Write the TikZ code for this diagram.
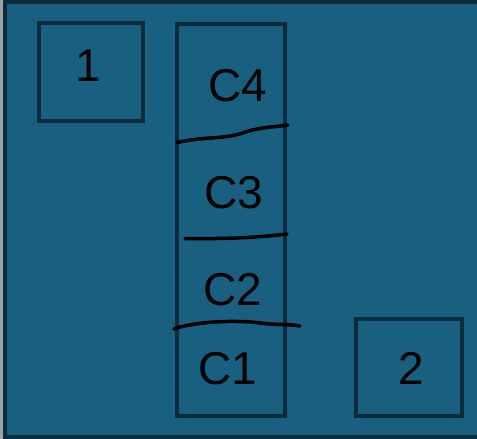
\documentclass[tikz,border=0pt]{standalone}
\usepackage{fontspec}
\setmainfont{Liberation Sans}
\begin{document}
\begin{tikzpicture}[x=1pt,y=-1pt,
  frame/.style={draw=framecol,line width=4pt},
  cell/.style={draw=framecol,line width=4pt},
  divider/.style={draw=black,line width=3.5pt,line cap=round},
  handlabel/.style={font=\fontsize{46}{46}\selectfont,text=black,inner sep=0pt}]
\definecolor{panel}{HTML}{195F80}
\definecolor{framecol}{HTML}{0C2B3B}
\definecolor{edge}{HTML}{9AA4AA}
\clip (0,0) rectangle (477,439);
\fill[edge] (0,0) rectangle (477,439);
% outer panel
\draw[frame,fill=panel] (5,2) rectangle (480,437);
% box 1 at the top left
\node[cell,minimum width=104pt,minimum height=98pt] (b1) at (91,72) {};
\node[handlabel] (t1) at (88,66) {1};
% stacked column
\node[cell,minimum width=108pt,minimum height=392pt] (col) at (231,219.5) {};
\node[handlabel] (c4) at (238,86) {C4};
\node[handlabel] (c3) at (234,193) {C3};
\node[handlabel] (c2) at (233,290) {C2};
\node[handlabel] (c1) at (228,369) {C1};
% box 2 at the bottom right
\node[cell,minimum width=106pt,minimum height=97pt] (b2) at (408.5,367.5) {};
\node[handlabel] (t2) at (411,368) {2};
% hand-drawn dividers between the cells
\coordinate (d1a) at (177,142.5);
\coordinate (d1b) at (288,125);
\coordinate (d2a) at (185,238.5);
\coordinate (d2b) at (287,234);
\coordinate (d3a) at (174,329);
\coordinate (d3b) at (300,326);
\draw[divider] (d1a) .. controls (205,136) and (225,140) .. (247,131.5) .. controls (262,127) and (275,127) .. (d1b);
\draw[divider] (d2a) .. controls (220,239) and (255,238) .. (d2b);
\draw[divider] (d3a) .. controls (195,321) and (240,320) .. (260,323) .. controls (275,325) and (290,324) .. (d3b);
\end{tikzpicture}
\end{document}
